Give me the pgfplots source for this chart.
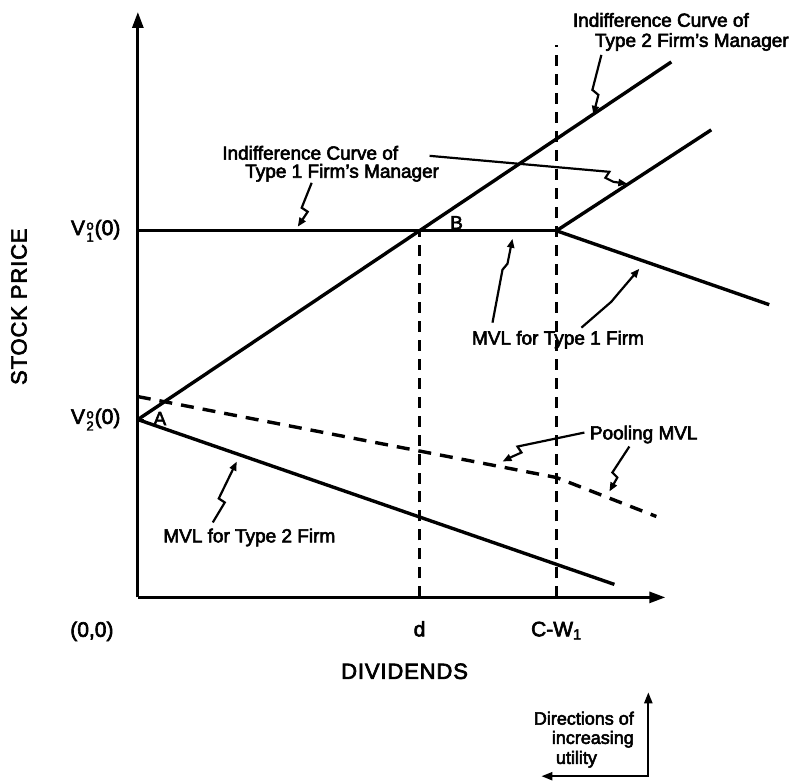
\documentclass[border=0pt]{standalone}
\usepackage{pgfplots}
\pgfplotsset{compat=1.18}
\usetikzlibrary{arrows.meta}
\usepackage{fontspec}
\setmainfont{Liberation Sans}[FakeBold=3]
\newcommand\lab{\fontsize{19}{22}\selectfont}
\newcommand\caplab{\fontsize{22}{26}\selectfont\addfontfeature{LetterSpace=4}}
\newcommand\smlab{\fontsize{18}{21}\selectfont}
\newcommand\Vsub[1]{V\kern1.5pt\raisebox{-0.6ex}{\fontsize{13}{10}\selectfont\shortstack[l]{o\\#1}}\kern1pt(0)}
\tikzset{lbl/.style={font=\lab}}
\begin{document}
\begin{tikzpicture}
\begin{axis}[
  x=1pt, y=1pt,
  xmin=0, xmax=528, ymin=0, ymax=586,
  axis lines=left,
  axis line style={line width=2.8pt, -{Triangle[length=16pt,width=11pt]}},
  clip=false,
  xtick={282,419},
  xticklabels={d, C-W\textsubscript{1}},
  ytick={178,367},
  yticklabels={\Vsub{2}, \Vsub{1}},
  tick align=inside,
  major tick length=6pt,
  tick style={line width=2pt, black},
  xticklabel style={anchor=base, yshift=-39pt, font=\fontsize{21}{24}\selectfont},
  yticklabel style={anchor=east, xshift=-14pt, font=\fontsize{21}{24}\selectfont},
]
% invisible bounding box
\path (axis cs:-138,-182) rectangle (axis cs:654,598);
% Type 2 manager's indifference curve
\addplot[line width=3.4pt, black] coordinates {(0,178) (534,536)};
% Type 1 firm MVL / indifference horizontal
\addplot[line width=3.4pt, black] coordinates {(0,367) (419,367)};
% Type 1 indifference above C-W1
\addplot[line width=3.4pt, black] coordinates {(419,367) (574,468)};
% MVL type 1 after C-W1
\addplot[line width=3.4pt, black] coordinates {(419,367) (632,293)};
% MVL type 2
\addplot[line width=3.4pt, black] coordinates {(0,178) (477,13)};
% Pooling MVL
\addplot[line width=3.4pt, black, dash pattern=on 13pt off 9pt] coordinates {(0,201) (419,120) (519,81)};
% dashed verticals
\addplot[line width=2.4pt, black, dash pattern=on 11pt off 8pt] coordinates {(282,0) (282,367)};
\addplot[line width=2.4pt, black, dash pattern=on 11pt off 8pt] coordinates {(419,0) (419,553)};
% squiggly pointer arrows
\addplot[line width=2.2pt, black, -{Triangle[length=9pt,width=7pt]}] coordinates {(464,543) (455,508) (461,503) (456,483)};
\addplot[line width=2.2pt, black, -{Triangle[length=9pt,width=7pt]}] coordinates {(174,415) (164,390) (170,386) (160,371)};
\addplot[line width=2.2pt, black, -{Triangle[length=9pt,width=7pt]}] coordinates {(292,442) (472,426) (468,420) (476,416) (490,414)};
\addplot[line width=2.2pt, black, -{Triangle[length=9pt,width=7pt]}] coordinates {(355,275) (365,328) (370,334) (375,359)};
\addplot[line width=2.2pt, black, -{Triangle[length=9pt,width=7pt]}] coordinates {(444,270) (474,296) (479,302) (502,329)};
\addplot[line width=2.2pt, black, -{Triangle[length=9pt,width=7pt]}] coordinates {(75,75) (87,95) (81,99) (99,136)};
\addplot[line width=2.2pt, black, -{Triangle[length=9pt,width=7pt]}] coordinates {(447,165) (380,151) (384,145) (375,141) (365,136)};
\addplot[line width=2.2pt, black, -{Triangle[length=9pt,width=7pt]}] coordinates {(492,151) (475,125) (480,120) (472,106)};
% direction of increasing utility arrows
\addplot[line width=2.2pt, black, {Triangle[length=11pt,width=8pt]}-{Triangle[length=11pt,width=8pt]}] coordinates {(404,-179) (511,-179) (511,-95)};
% labels
\node[lbl, anchor=west] at (axis cs:432,578) {Indifference Curve of};
\node[lbl, anchor=west] at (axis cs:454,556) {Type 2 Firm's Manager};
\node[lbl, anchor=west] at (axis cs:81,445) {Indifference Curve of};
\node[lbl, anchor=west] at (axis cs:104,425) {Type 1 Firm's Manager};
\node[lbl] at (axis cs:319,375) {B};
\node[lbl] at (axis cs:22,179) {A};
\node[lbl, anchor=west] at (axis cs:331,258) {MVL for Type 1 Firm};
\node[lbl, anchor=west] at (axis cs:22,60) {MVL for Type 2 Firm};
\node[lbl, anchor=west] at (axis cs:449,163) {Pooling MVL};
\node[font=\fontsize{21}{24}\selectfont] at (axis cs:-46,-34) {(0,0)};
\node[font=\caplab] at (axis cs:267,-74) {DIVIDENDS};
\node[font=\caplab, rotate=90] at (axis cs:-119,291) {STOCK PRICE};
\node[anchor=east, font=\smlab] at (axis cs:500,-121) {Directions of};
\node[anchor=east, font=\smlab] at (axis cs:500,-142) {increasing};
\node[anchor=west, font=\smlab] at (axis cs:415,-162) {utility};
\end{axis}
\end{tikzpicture}
\end{document}
